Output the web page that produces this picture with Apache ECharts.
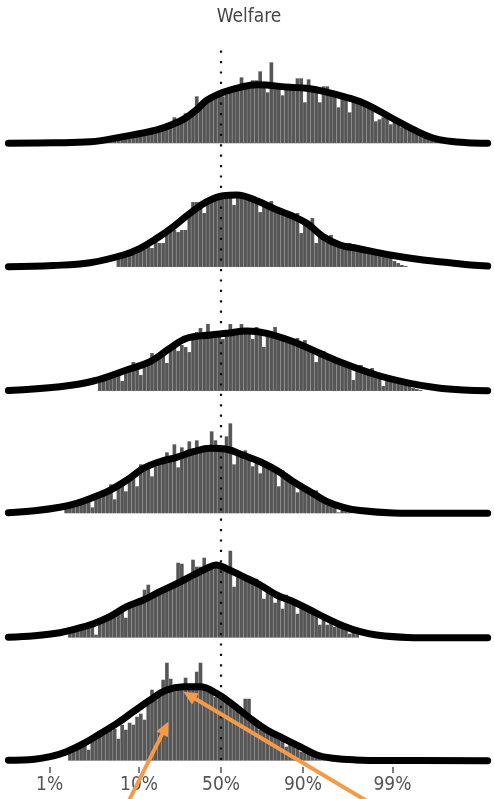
<!DOCTYPE html>
<html><head><meta charset="utf-8">
<script src="https://cdn.jsdelivr.net/npm/echarts@6/dist/echarts.min.js"></script>
<style>html,body{margin:0;padding:0;background:#fff}#c{width:494px;height:799px}</style>
</head><body><div id="c"></div>
<script>
// ---------- data ----------
const titleText = 'Welfare';
const tickProbs = [0.01, 0.1, 0.5, 0.9, 0.99];
const tickLabels = ['1%', '10%', '50%', '90%', '99%'];
const binWidth = 0.1; // bins on the logit scale

const bars1Start = -3.3;
const bars1 = [2,2,3,4,4,5,8,9,7,10, 9,8,10,10,11,12,13,14,15,17, 26,21,23,30,28,31,47,36,43,45,
  46,47,48,47,49,51,53,55,66,56, 57,63,63,72,57,51,81,56,56,48, 56,55,55,65,65,41,64,53,52,41,
  57,57,49,48,36,46,45,31,43,41, 40,38,37,35,22,24,26,27,19,23, 21,16,17,15,13,11,10,8,7,6, 4,3,2];
const bars2Start = -2.8;
const bars2 = [8,9,11,12,14,15,16,18, 20,19,25,24,24,34,36,37,35,37, 37,51,65,65,60,54,64,66,68,70,
  74,74,74,62,74,73,69,68,66,65, 55,62,60,66,57,55,54,52,51,49, 54,34,43,41,49,24,32,29,27,32,
  24,22,24,24,24,23,18,17,16,16, 15,14,13,12,11,9,6,4,2,1];
const bars3Start = -3.3;
const bars3 = [9,11,12,13,15,16,10,19,21,29, 23,16,26,28,38,31,33,36,28,41, 44,40,46,44,39,52,59,63,54,67,
  55,55,56,52,56,67,57,58,67,59, 58,52,64,57,44,56,55,64,53,51, 50,49,48,53,45,51,42,40,29,37,
  40,34,33,30,28,27,25,24,11,21, 26,19,18,23,15,14,5,12,11,10, 9,8,7,5,3,2,1];
const bars4Start = -4.2;
const bars4 = [5,6,7,8,9,11,12,6,15,16, 18,20,29,14,26,28,22,33,36,27, 49,43,45,37,47,49,51,61,52,69,
  46,66,57,72,59,73,61,62,63,82, 73,63,62,77,90,49,58,57,63,54, 47,51,40,48,46,44,42,27,43,35,
  32,30,21,25,23,21,19,23,14,12, 10,9,7,1,5,4,3];
const bars5Start = -4.1;
const bars5 = [5,6,7,8,9,10,11,3,14,16, 17,19,21,24,26,20,30,31,33,34, 48,53,39,41,43,49,47,49,51,75,
  74,56,58,78,71,71,80,68,69,70, 70,68,67,87,51,61,59,58,56,54, 59,50,39,46,44,35,39,29,43,35,
  33,24,30,28,26,24,22,13,19,13, 15,11,12,10,8,4,6,5];
const bars6Start = -4.1;
const bars6 = [8,10,11,13,15,11,20,22,29,26, 28,30,32,22,36,31,38,36,44,47, 41,56,71,61,64,81,98,82,73,71,
  72,83,72,72,89,98,71,70,68,64, 64,61,58,56,53,51,47,62,62,39, 36,31,31,29,27,25,23,21,14,17,
  16,14,9,10,8,6,5,4,3,2, 2,1,1];

// density curves: [logit, height]
const curve1 = [[-5.7,0],[-4.5,0.5],[-3.5,1.5],[-2.62,6.7],[-1.72,13.5],[-1.23,20],[-0.96,25],[-0.61,35],[-0.38,43],[0.06,51],[0.51,56],[0.96,58.5],[1.85,56],[2.3,55],[2.75,52],[3.46,45],[3.9,39],[4.53,26.3],[5.15,14],[5.68,5.3],[6.14,2],[6.6,0.6],[7.15,0]];
const curve2 = [[-5.7,0.3],[-4.5,1.5],[-3.51,4.3],[-2.62,12],[-2.17,18.7],[-1.72,28.7],[-1.28,40.3],[-0.83,53.7],[-0.38,65.3],[0.06,71.3],[0.42,72],[0.96,66.3],[1.4,58.7],[1.85,52],[2.3,43.7],[2.74,30.3],[3.19,22],[3.64,18.7],[4.53,12],[5.42,7],[6.14,4.3],[6.7,2],[7.15,1]];
const curve3 = [[-5.7,0.5],[-4.32,4.3],[-3.42,10],[-2.53,21],[-1.9,29.3],[-1.37,42.7],[-0.92,52.7],[-0.29,56],[0.15,57.7],[0.69,60],[1.23,57.7],[1.94,49.3],[2.65,37.7],[3.28,27.7],[4.17,16],[5.07,7.7],[5.78,3.3],[6.5,1],[7.15,0.3]];
const curve4 = [[-5.7,0.5],[-5.0,2.5],[-4.32,6],[-3.87,10],[-3.42,16],[-2.98,23],[-2.53,33],[-2.08,45],[-1.64,51.6],[-1.19,56],[-0.74,61.6],[-0.29,65],[0.15,64],[0.6,58],[1.05,51.6],[1.49,43],[1.94,31.6],[2.39,21.6],[2.83,12],[3.28,6],[3.73,2.7],[4.62,0.3],[5.5,0],[7.15,0]];
const curve5 = [[-5.7,0.5],[-5.0,2],[-4.32,5],[-3.87,9],[-3.42,14],[-2.98,21],[-2.53,31],[-2.08,37.7],[-1.64,46],[-1.19,54],[-0.74,62.7],[-0.29,71],[-0.12,72.7],[0.15,69],[0.6,61],[1.05,52.7],[1.49,42.7],[1.94,36],[2.39,27.7],[2.83,19.4],[3.28,11.7],[3.73,6],[4.17,2.7],[5.0,0.3],[5.8,0],[7.15,0]];
const curve6 = [[-5.7,0.5],[-5.0,1.5],[-4.58,4],[-4.14,9],[-3.69,17],[-3.24,27],[-2.8,37],[-2.35,49],[-1.9,60.7],[-1.46,70.7],[-1.01,74],[-0.56,74],[-0.12,67.4],[0.33,55.7],[0.78,42.4],[1.23,30.7],[1.67,22.4],[2.12,14],[2.57,5.7],[3.01,2.4],[3.6,0.8],[4.5,0.2],[7.15,0]];

const medianLogit = 0;
const arrowTips = [[-1.41, 39], [-1.01, 69]];
const arrowTails = [[-2.59, -49], [4.30, -49]];

// ---------- layout ----------
const barsList = [bars1, bars2, bars3, bars4, bars5, bars6];
const startList = [bars1Start, bars2Start, bars3Start, bars4Start, bars5Start, bars6Start];
const curveList = [curve1, curve2, curve3, curve4, curve5, curve6];
const H = 799;
const baselines = [143.3, 267, 391, 513.3, 637.7, 760.7];
const panelH = 110;
const xMin = -5.925, xMax = 7.319;
const axisY = 767, dotTop = 43;
const font = "'Liberation Sans Narrow','DejaVu Sans Condensed','Roboto Condensed',sans-serif";
const logit = p => Math.log(p / (1 - p));
const tickValues = tickProbs.map(logit);

const grids = [], xAxes = [], yAxes = [], series = [];
baselines.forEach((b, i) => {
  grids.push({ left: 0, right: 0, top: b - panelH, height: panelH });
  xAxes.push({ gridIndex: i, type: 'value', min: xMin, max: xMax, show: false });
  yAxes.push({ gridIndex: i, type: 'value', min: 0, max: panelH, show: false });
  const data = barsList[i].map((v, k) => [startList[i] + k * binWidth, startList[i] + (k + 1) * binWidth, v]);
  series.push({
    type: 'custom', xAxisIndex: i, yAxisIndex: i, data, clip: false, z: 2,
    renderItem: (params, api) => {
      const p0 = api.coord([api.value(0), 0]);
      const p1 = api.coord([api.value(1), api.value(2)]);
      return { type: 'rect', shape: { x: p0[0], y: p1[1], width: p1[0] - p0[0], height: p0[1] - p1[1] },
        style: { fill: '#565656', stroke: 'rgba(255,255,255,0.16)', lineWidth: 0.6 } };
    }
  });
  series.push({
    type: 'line', xAxisIndex: i, yAxisIndex: i, data: curveList[i], smooth: 0.4,
    symbol: 'none', clip: false, z: 3, silent: true,
    lineStyle: { color: '#000', width: 7, cap: 'round', join: 'round' }
  });
});
// overlay grid for axis and median line
grids.push({ left: 0, right: 0, top: 40, bottom: H - axisY });
const ovH = axisY - 40;
xAxes.push({
  gridIndex: 6, type: 'value', min: xMin, max: xMax,
  axisLine: { show: false }, splitLine: { show: false },
  axisTick: { show: true, customValues: tickValues, length: 6, lineStyle: { color: '#555', width: 1.5 } },
  axisLabel: { show: true, customValues: tickValues, margin: 9, fontSize: 19, color: '#555', fontFamily: font,
    formatter: v => { const k = tickValues.findIndex(t => Math.abs(t - v) < 1e-6); return k >= 0 ? tickLabels[k] : ''; } }
});
yAxes.push({ gridIndex: 6, type: 'value', min: 0, max: ovH, show: false });
series.push({
  type: 'line', xAxisIndex: 6, yAxisIndex: 6, symbol: 'none', z: 5, silent: true,
  data: [[medianLogit, axisY - 760], [medianLogit, axisY - dotTop]],
  lineStyle: { color: '#111', width: 2.2, type: [2.2, 8.2] }
});

const chart = echarts.init(document.getElementById('c'), null, { renderer: 'canvas' });
const titleGraphic = { type: 'text', x: 249, y: 17, style: { text: titleText, fontSize: 19, fill: '#474747', fontFamily: font, textAlign: 'center', textVerticalAlign: 'middle' } };
chart.setOption({
  animation: false,
  grid: grids, xAxis: xAxes, yAxis: yAxes, series,
  graphic: [titleGraphic]
});

// arrows (annotation) positioned from data coords of the bottom panel
const arrowColor = '#F59A48';
const g = [];
arrowTips.forEach((tip, i) => {
  const T = chart.convertToPixel({ xAxisIndex: 5, yAxisIndex: 5 }, tip);
  const S = chart.convertToPixel({ xAxisIndex: 5, yAxisIndex: 5 }, arrowTails[i]);
  const dx = T[0] - S[0], dy = T[1] - S[1], len = Math.hypot(dx, dy);
  const ux = dx / len, uy = dy / len, nx = -uy, ny = ux;
  const L = 14, hw = 6.5;
  const B = [T[0] - ux * L, T[1] - uy * L];
  g.push({ type: 'line', z: 100, shape: { x1: S[0], y1: S[1], x2: B[0] + ux * 2, y2: B[1] + uy * 2 },
    style: { stroke: arrowColor, lineWidth: 4 } });
  g.push({ type: 'polygon', z: 100, shape: { points: [T, [B[0] + nx * hw, B[1] + ny * hw], [B[0] - nx * hw, B[1] - ny * hw]] },
    style: { fill: arrowColor } });
});
chart.setOption({ graphic: [titleGraphic].concat(g) });
</script></body></html>
